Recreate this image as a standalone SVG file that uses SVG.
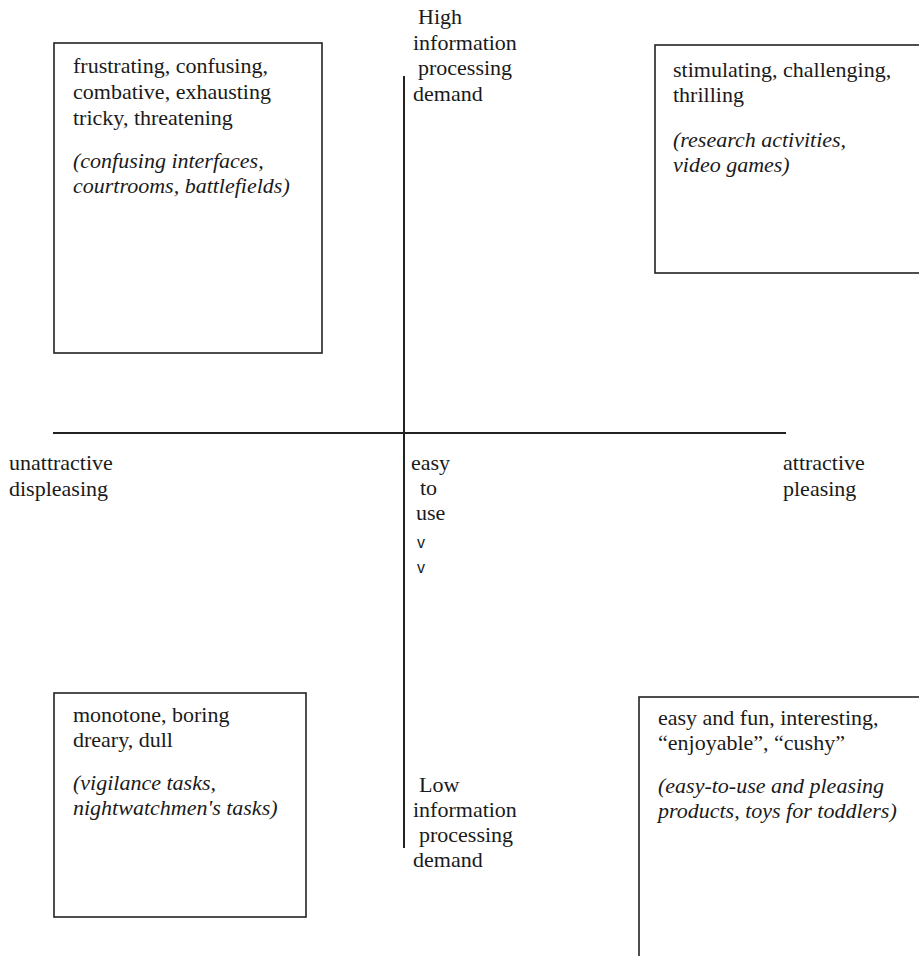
<svg xmlns="http://www.w3.org/2000/svg" width="919" height="956" viewBox="0 0 919 956">
<style>
  .box { fill: none; stroke: #222; stroke-width: 1.6; }
  .axis { stroke: #222; stroke-width: 2; fill: none; }
  .t { font-family: "Liberation Serif", "Times New Roman", serif; font-size: 22px; fill: #1a1a1a; }
  .it { font-style: italic; }
  .v { font-family: "Liberation Sans", Arial, sans-serif; font-size: 16px; fill: #1a1a1a; }
</style>
<rect width="919" height="956" fill="#ffffff"/>
<g id="connectors">
  <line class="axis" x1="404" y1="76" x2="404" y2="848"/>
  <line class="axis" x1="53" y1="433" x2="786" y2="433"/>
</g>
<g id="quadrant-top-left" class="t">
  <rect class="box" x="54" y="43" width="268" height="310"/>
  <text x="73" y="73">frustrating, confusing,</text>
  <text x="73" y="99">combative, exhausting</text>
  <text x="73" y="125">tricky, threatening</text>
  <text class="it" x="73" y="168">(confusing interfaces,</text>
  <text class="it" x="73" y="193">courtrooms, battlefields)</text>
</g>
<g id="quadrant-top-right" class="t">
  <rect class="box" x="655" y="45" width="280" height="228"/>
  <text x="673" y="77">stimulating, challenging,</text>
  <text x="673" y="102">thrilling</text>
  <text class="it" x="673" y="147">(research activities,</text>
  <text class="it" x="673" y="172">video games)</text>
</g>
<g id="quadrant-bottom-left" class="t">
  <rect class="box" x="54" y="693" width="252" height="224"/>
  <text x="73" y="722">monotone, boring</text>
  <text x="73" y="747">dreary, dull</text>
  <text class="it" x="73" y="790">(vigilance tasks,</text>
  <text class="it" x="73" y="815">nightwatchmen's tasks)</text>
</g>
<g id="quadrant-bottom-right" class="t">
  <rect class="box" x="639" y="697" width="300" height="280"/>
  <text x="658" y="725">easy and fun, interesting,</text>
  <text x="658" y="750">“enjoyable”, “cushy”</text>
  <text class="it" x="658" y="793">(easy-to-use and pleasing</text>
  <text class="it" x="658" y="818">products, toys for toddlers)</text>
</g>
<g id="label-high" class="t">
  <text x="418" y="24">High</text>
  <text x="413" y="50">information</text>
  <text x="418" y="75">processing</text>
  <text x="413" y="101">demand</text>
</g>
<g id="label-low" class="t">
  <text x="419" y="792">Low</text>
  <text x="413" y="817">information</text>
  <text x="419" y="842">processing</text>
  <text x="413" y="867">demand</text>
</g>
<g id="label-easy" class="t">
  <text x="411" y="470">easy</text>
  <text x="420" y="495">to</text>
  <text x="416" y="520">use</text>
  <text class="v" x="417" y="548">v</text>
  <text class="v" x="417" y="573">v</text>
</g>
<g id="label-left" class="t">
  <text x="9" y="470">unattractive</text>
  <text x="9" y="496">displeasing</text>
</g>
<g id="label-right" class="t">
  <text x="783" y="470">attractive</text>
  <text x="783" y="496">pleasing</text>
</g>
</svg>
